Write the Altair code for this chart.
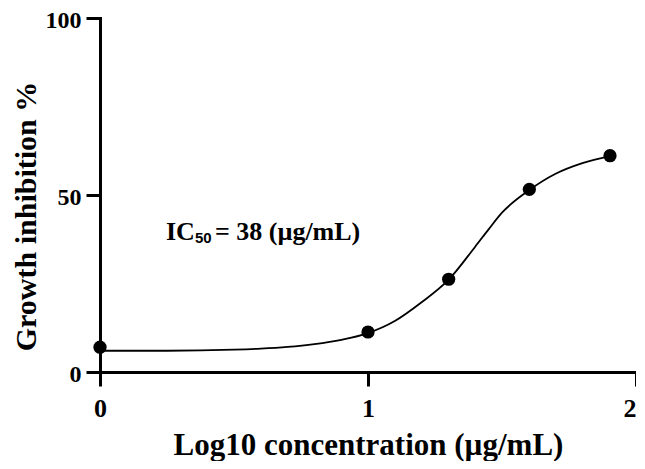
import altair as alt
import pandas as pd

# measured points (log10 concentration, % inhibition)
log_conc = [0.0, 1.0, 1.301, 1.602, 1.903]
inhibition = [7.0, 11.3, 26.2, 51.6, 61.1]

# fitted curve
fit_x = [0.0, 0.25, 0.5, 0.6, 0.7, 0.8, 0.9, 1.0, 1.1, 1.2, 1.3, 1.4, 1.45, 1.5, 1.6, 1.7, 1.8, 1.903]
fit_y = [6.0, 6.0, 6.3, 6.6, 7.1, 7.9, 9.1, 11.0, 14.4, 19.7, 26.0, 35.4, 40.3, 45.0, 51.3, 56.0, 59.0, 61.0]

x_tick_count = 2   # gives ticks 0, 1, 2
y_ticks = [0, 50, 100]

ann_x = [0.246]
ann_y = [37.3]
ann_main = "IC"
ann_sub = "50"
ann_rest = "= 38 (µg/mL)"

pts = pd.DataFrame({"x": log_conc, "y": inhibition})
fit = pd.DataFrame({"x": fit_x, "y": fit_y})
ann = pd.DataFrame({"x": ann_x, "y": ann_y})

SERIF = "Liberation Serif"

xenc = alt.X(
    "x:Q",
    scale=alt.Scale(domain=[0, 2], nice=False, zero=False),
    axis=alt.Axis(
        tickCount=x_tick_count, tickMinStep=1, format="d", title="Log10 concentration (µg/mL)",
        labelFontSize=26, labelPadding=9, titleFontSize=31,
        labelFlush=False, labelOverlap=False,
        labelAlign=alt.expr("datum.value == 2 ? 'right' : 'center'"),
        titleY=82, titleBaseline="alphabetic",
    ),
)
yenc = alt.Y(
    "y:Q",
    scale=alt.Scale(domain=[0, 100], nice=False),
    axis=alt.Axis(
        values=y_ticks, tickCount=3, format="d", title="Growth inhibition %",
        labelFontSize=24, labelPadding=5, labelOffset=2, titleFontSize=30,
        labelFlush=False, labelOverlap=False,
        titleX=-74, titleY=198, titleAngle=-90, titleAlign="center", titleBaseline="middle",
    ),
)

line = alt.Chart(fit).mark_line(color="black", strokeWidth=1.8, interpolate="monotone").encode(x=xenc, y=yenc)
dots = alt.Chart(pts).mark_circle(color="black", size=175, opacity=1).encode(x=xenc, y=yenc)

t1 = alt.Chart(ann).mark_text(
    text=ann_main, align="left", baseline="alphabetic", font=SERIF, fontWeight="bold",
    fontSize=26, color="black"
).encode(x=xenc, y=yenc)
t2 = alt.Chart(ann).mark_text(
    text=ann_sub, align="left", baseline="alphabetic", font="Liberation Sans", fontWeight="bold",
    fontSize=15, color="black", dx=29, dy=3.5
).encode(x=xenc, y=yenc)
t3 = alt.Chart(ann).mark_text(
    text=ann_rest, align="left", baseline="alphabetic", font=SERIF, fontWeight="bold",
    fontSize=26, color="black", dx=49
).encode(x=xenc, y=yenc)

chart = (
    alt.layer(line, dots, t1, t2, t3)
    .properties(
        width=536, height=354,
        autosize=alt.AutoSizeParams(type="none"),
        padding={"left": 92, "top": 10, "right": 0, "bottom": 89},
        background="white",
    )
    .configure_view(stroke=None)
    .configure_axis(
        grid=False,
        domainColor="black", domainWidth=3, domainCap="square",
        tickColor="black", tickWidth=3, tickSize=14,
        labelFont=SERIF, labelFontWeight="bold", labelColor="black",
        titleFont=SERIF, titleFontWeight="bold", titleColor="black",
    )
)

chart.save("out.html", embed_options={"renderer": "svg", "actions": False})
